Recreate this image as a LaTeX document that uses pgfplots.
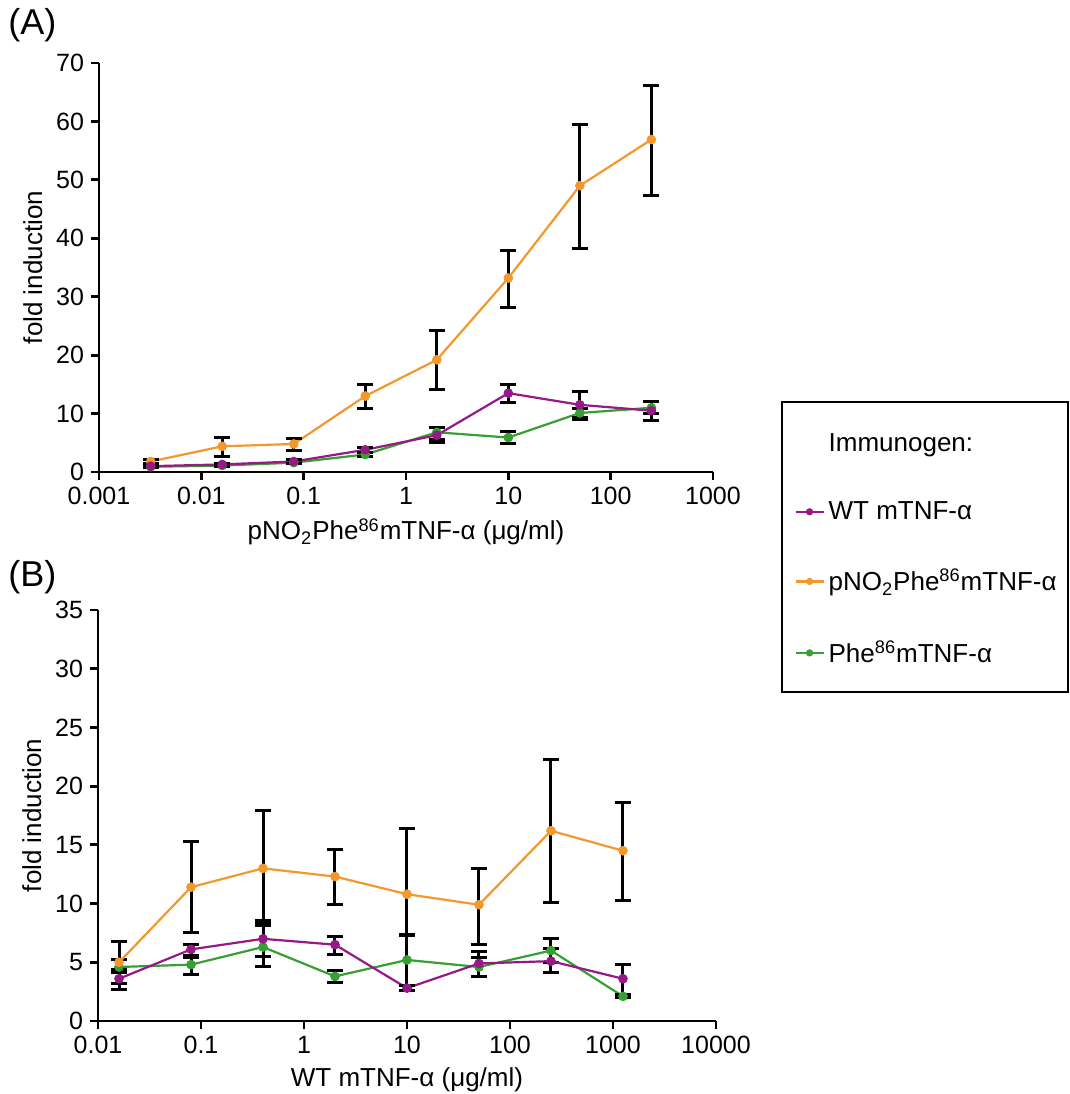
\documentclass[border=0pt]{standalone}
\usepackage{fontspec}
\setmainfont{Liberation Sans}
\usepackage{pgfplots}
\pgfplotsset{compat=1.18}
\usepackage{pgfplotstable}
\definecolor{cpur}{RGB}{150,25,135}
\definecolor{cora}{RGB}{243,152,45}
\definecolor{cgre}{RGB}{55,160,50}

% Panel A: x, mean, error plus, error minus
\pgfplotstableread{
x y ep em
0.0032 1.8 0.3 0.3
0.016 4.4 1.5 1.8
0.08 4.8 0.9 1.1
0.4 13.0 2.0 2.2
2 19.2 5.1 5.1
10 33.2 4.7 5.1
50 49.0 10.4 10.8
250 56.9 9.3 9.5
}\Aora
\pgfplotstableread{
x y ep em
0.0032 1.0 0.2 0.2
0.016 1.3 0.2 0.2
0.08 1.8 0.3 0.3
0.4 3.8 0.4 0.4
2 6.3 1.4 1.3
10 13.5 1.4 1.6
50 11.5 2.3 2.5
250 10.5 1.5 1.7
}\Apur
\pgfplotstableread{
x y ep em
0.0032 0.9 0.2 0.2
0.016 1.1 0.2 0.2
0.08 1.6 0.2 0.2
0.4 3.0 0.3 0.3
2 6.8 0.8 1.2
10 5.9 1.0 1.0
50 10.1 0.8 0.8
250 11.0 1.0 1.0
}\Agre
% Panel B
\pgfplotstableread{
x y ep em
0.016 5.0 1.8 1.8
0.08 11.4 3.9 3.9
0.4 13.0 4.9 4.9
2 12.3 2.3 2.4
10 10.8 5.6 3.5
50 9.9 3.1 3.4
250 16.2 6.1 6.1
1250 14.5 4.1 4.2
}\Bora
\pgfplotstableread{
x y ep em
0.016 3.6 0.8 0.9
0.08 6.1 0.4 0.7
0.4 7.0 1.6 1.5
2 6.5 0.7 0.8
10 2.8 0.2 0.2
50 4.9 0.5 1.1
250 5.1 1.1 1.0
1250 3.6 1.2 1.3
}\Bpur
\pgfplotstableread{
x y ep em
0.016 4.6 0.6 0.5
0.08 4.8 0.8 0.8
0.4 6.3 2.0 1.7
2 3.8 0.5 0.5
10 5.2 2.2 2.2
50 4.6 1.3 0.8
250 6.0 1.0 1.0
1250 2.1 0.2 0.1
}\Bgre

\tikzset{
  lin/.style={draw=#1, line width=1.1pt, mark=*, mark size=2.2pt,
    mark options={fill=#1, draw=#1, line width=0.4pt}},
}
\pgfplotsset{
  every axis/.append style={
    xmode=log, scale only axis,
    axis lines*=left,
    axis line style={line width=1.4pt, black},
    tick style={line width=1.4pt, black},
    tick align=outside, major tick length=4pt,
    xminorticks=false,
    tick label style={font=\fontsize{12.5}{14}\selectfont},
    label style={font=\fontsize{13}{15}\selectfont},
    /pgf/number format/assume math mode=true,
    clip=false,
  },
  every axis plot/.append style={
    error bars/y dir=both, error bars/y explicit,
    error bars/error bar style={black, line width=1.5pt},
    error bars/error mark options={black, rotate=90, mark size=4pt, line width=1.5pt},
  },
}

\begin{document}
\begin{tikzpicture}
\useasboundingbox (0,0) rectangle (535pt,-547pt);
\fill[white] (0,0) rectangle (535pt,-547pt);

\node[anchor=north west, inner sep=0pt, font=\fontsize{18}{20}\selectfont] at (4pt,-4pt) {(A)};
\node[anchor=north west, inner sep=0pt, font=\fontsize{18}{20}\selectfont] at (4pt,-280pt) {(B)};

\begin{axis}[
  at={(49.5pt,-236pt)}, anchor=south west,
  width=307pt, height=204.5pt,
  xmin=0.001, xmax=1000, ymin=0, ymax=70,
  xtick={0.001,0.01,0.1,1,10,100,1000},
  xticklabels={0.001,0.01,0.1,1,10,100,1000},
  ytick={0,10,...,70},
  xlabel={pNO\textsubscript{2}Phe\textsuperscript{86}mTNF-α (μg/ml)},
  ylabel={fold induction},
  legend cell align=left,
  legend style={at={(1.132,0.105)}, anchor=north west, draw=none, fill=none,
    font=\fontsize{13}{15}\selectfont, row sep=19.5pt, inner sep=0pt},
  legend image code/.code={\draw[mark repeat=2, mark phase=2, #1, mark size=1.6pt] plot coordinates {(0pt,0pt) (7pt,0pt) (14pt,0pt)};},
]
\addplot[forget plot, lin=cgre] table[x=x, y=y, y error plus=ep, y error minus=em] {\Agre};
\addplot[forget plot, lin=cora] table[x=x, y=y, y error plus=ep, y error minus=em] {\Aora};
\addplot[forget plot, lin=cpur] table[x=x, y=y, y error plus=ep, y error minus=em] {\Apur};
\addlegendimage{empty legend}
\addlegendentry{Immunogen:}
\addlegendimage{lin=cpur}
\addlegendentry{WT mTNF-α}
\addlegendimage{lin=cora}
\addlegendentry{pNO\textsubscript{2}Phe\textsuperscript{86}mTNF-α}
\addlegendimage{lin=cgre}
\addlegendentry{Phe\textsuperscript{86}mTNF-α}
\end{axis}

\draw[line width=0.9pt] (391pt,-201pt) rectangle (534pt,-346pt);

\begin{axis}[
  at={(49pt,-510.5pt)}, anchor=south west,
  width=309pt, height=205.5pt,
  xmin=0.01, xmax=10000, ymin=0, ymax=35,
  xtick={0.01,0.1,1,10,100,1000,10000},
  xticklabels={0.01,0.1,1,10,100,1000,10000},
  ytick={0,5,...,35},
  xlabel={WT mTNF-α (μg/ml)},
  ylabel={fold induction},
]
\addplot[lin=cgre] table[x=x, y=y, y error plus=ep, y error minus=em] {\Bgre};
\addplot[lin=cora] table[x=x, y=y, y error plus=ep, y error minus=em] {\Bora};
\addplot[lin=cpur] table[x=x, y=y, y error plus=ep, y error minus=em] {\Bpur};
\end{axis}
\end{tikzpicture}
\end{document}
